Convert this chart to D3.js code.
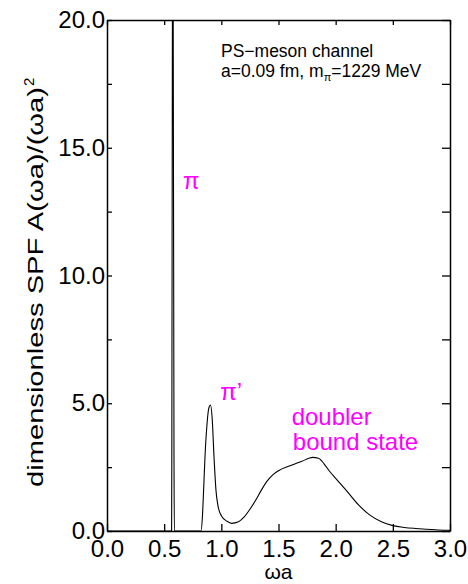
<!DOCTYPE html>
<html>
<head>
<meta charset="utf-8">
<script src="https://cdn.jsdelivr.net/npm/d3@7"></script>
<style>
  body { margin: 0; background: #fff; }
  text { font-family: "Liberation Sans", Arial, sans-serif; }
</style>
</head>
<body>
<div id="chart"></div>
<script>
// spectral function
const omega = [0.00, 0.50, 0.560, 0.565, 0.567, 0.572, 0.575, 0.579, 0.586, 0.589, 0.60,
  0.80, 0.822, 0.835, 0.845, 0.857, 0.875, 0.89, 0.905, 0.92, 0.936, 0.953, 0.97, 1.00,
  1.05, 1.09, 1.15, 1.20, 1.25, 1.30, 1.35, 1.40, 1.45, 1.50, 1.60, 1.70, 1.80, 1.85,
  1.90, 1.95, 2.00, 2.10, 2.20, 2.30, 2.40, 2.50, 2.60, 2.70, 2.80, 2.90, 3.00];
const spf = [0, 0, 0, 0, 3, 20, 40, 20, 3, 0, 0,
  0, 0, 0.6, 1.6, 2.9, 4.2, 4.8, 4.93, 4.4, 2.9, 1.6, 1.0, 0.6,
  0.38, 0.30, 0.36, 0.55, 0.85, 1.2, 1.6, 1.95, 2.2, 2.36, 2.55, 2.72, 2.88, 2.85,
  2.62, 2.32, 2.06, 1.55, 1.02, 0.62, 0.36, 0.21, 0.14, 0.10, 0.07, 0.04, 0.03];

const xTicks = [0, 0.5, 1.0, 1.5, 2.0, 2.5, 3.0];
const yTicks = [0, 2.5, 5, 7.5, 10, 12.5, 15, 17.5, 20];

// peak labels (data coordinates)
const peakNames = ["\u03c0", "\u03c0\u2019", "doubler", "bound state"];
const peakX = [0.665, 0.99, 1.615, 1.625];
const peakY = [13.4, 5.13, 4.15, 3.17];

let dim = { width: 468, height: 584, left: 107, right: 18, top: 20, bottom: 53 };
let w = dim.width - dim.left - dim.right;
let h = dim.height - dim.top - dim.bottom;

let svg = d3.select("#chart").append("svg")
  .attr("width", dim.width)
  .attr("height", dim.height);

let g = svg.append("g").attr("transform", `translate(${dim.left},${dim.top})`);

let scaleX = d3.scaleLinear().domain([0, 3]).range([0, w]);
let scaleY = d3.scaleLinear().domain([0, 20]).range([h, 0]);

g.append("clipPath").attr("id", "clip")
  .append("rect").attr("width", w).attr("height", h);

let pts = omega.map((o, i) => [o, spf[i]]);
let line = d3.line()
  .x(d => scaleX(d[0]))
  .y(d => scaleY(d[1]))
  .curve(d3.curveMonotoneX);

g.append("path")
  .attr("clip-path", "url(#clip)")
  .attr("d", line(pts))
  .attr("fill", "none")
  .attr("stroke", "#000")
  .attr("stroke-width", 1.1);

let fmt = d3.format(".1f");

let axB = g.append("g").attr("transform", `translate(0,${h})`)
  .call(d3.axisBottom(scaleX).tickValues(xTicks).tickFormat(fmt)
    .tickSizeInner(-7).tickSizeOuter(0).tickPadding(9));
let axT = g.append("g")
  .call(d3.axisTop(scaleX).tickValues(xTicks).tickFormat("")
    .tickSizeInner(-5).tickSizeOuter(0));
let axL = g.append("g")
  .call(d3.axisLeft(scaleY).tickValues(yTicks)
    .tickFormat(d => d % 5 === 0 ? fmt(d) : "")
    .tickSizeInner(-5).tickSizeOuter(0).tickPadding(2));
let axR = g.append("g").attr("transform", `translate(${w},0)`)
  .call(d3.axisRight(scaleY).tickValues(yTicks).tickFormat("")
    .tickSizeInner(-8).tickSizeOuter(0));

[axB, axT, axL, axR].forEach(a => {
  a.select(".domain").attr("stroke", "#000").attr("stroke-width", 1.5);
  a.selectAll(".tick line").attr("stroke", "#000").attr("stroke-width", 1.3);
  a.selectAll("text").attr("fill", "#000")
    .attr("font-family", "Liberation Sans, Arial, sans-serif")
    .attr("font-size", 24);
});

// axis titles
g.append("text")
  .attr("x", w / 2).attr("y", h + 48)
  .attr("text-anchor", "middle")
  .attr("font-size", 21)
  .text("\u03c9a");

// y title: stretched to the length seen in the reference
let yBottom = h - 44;
let yLen = 400;
g.append("text")
  .attr("transform", `translate(${-64},${yBottom}) rotate(-90)`)
  .attr("font-size", 22)
  .attr("textLength", yLen)
  .attr("lengthAdjust", "spacingAndGlyphs")
  .text("dimensionless SPF  A(\u03c9a)/(\u03c9a)");
g.append("text")
  .attr("transform", `translate(${-73},${yBottom - yLen - 1}) rotate(-90)`)
  .attr("font-size", 15)
  .text("2");

// info box
let info = g.append("text").attr("x", 114).attr("y", 37).attr("font-size", 17.5);
info.append("tspan").text("PS\u2212meson channel");
let info2 = g.append("text").attr("x", 114).attr("y", 57).attr("font-size", 17.5);
info2.append("tspan").text("a=0.09 fm, m");
info2.append("tspan").attr("font-size", 11).attr("dy", 4).text("\u03c0");
info2.append("tspan").attr("dy", -4).text("=1229 MeV");

// peak labels
g.selectAll(".peak")
  .data(peakNames)
  .join("text")
  .attr("class", "peak")
  .attr("x", (d, i) => scaleX(peakX[i]))
  .attr("y", (d, i) => scaleY(peakY[i]))
  .attr("fill", "#ff00ff")
  .attr("font-size", 24)
  .text(d => d);
</script>
</body>
</html>
